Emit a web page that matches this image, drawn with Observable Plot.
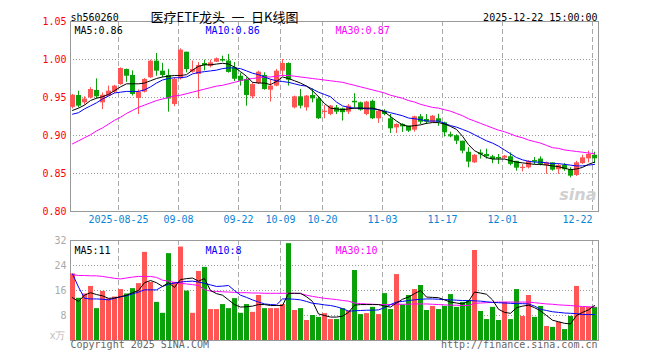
<!DOCTYPE html>
<html><head><meta charset="utf-8">
<script src="https://cdn.jsdelivr.net/npm/d3@7"></script>
<script src="https://cdn.jsdelivr.net/npm/@observablehq/plot@0.6"></script>
<style>
html,body{margin:0;padding:0;background:#fff;}
#chart{width:660px;height:360px;position:relative;overflow:hidden;}
#chart svg{display:block;}
</style></head>
<body><div id="chart"></div>
<script>
const code = "sh560260";
const title = "医疗ETF龙头\u2002一\u2002日K线图";
const stamp = "2025-12-22 15:00:00";
const dates = [
"2025-08-13","2025-08-14","2025-08-15","2025-08-18","2025-08-19","2025-08-20","2025-08-21","2025-08-22","2025-08-25","2025-08-26",
"2025-08-27","2025-08-28","2025-08-29","2025-09-01","2025-09-02","2025-09-03","2025-09-04","2025-09-05","2025-09-08","2025-09-09",
"2025-09-10","2025-09-11","2025-09-12","2025-09-15","2025-09-16","2025-09-17","2025-09-18","2025-09-19","2025-09-22","2025-09-23",
"2025-09-24","2025-09-25","2025-09-26","2025-09-29","2025-09-30","2025-10-09","2025-10-10","2025-10-13","2025-10-14","2025-10-15",
"2025-10-16","2025-10-17","2025-10-20","2025-10-21","2025-10-22","2025-10-23","2025-10-24","2025-10-27","2025-10-28","2025-10-29",
"2025-10-30","2025-10-31","2025-11-03","2025-11-04","2025-11-05","2025-11-06","2025-11-07","2025-11-10","2025-11-11","2025-11-12",
"2025-11-13","2025-11-14","2025-11-17","2025-11-18","2025-11-19","2025-11-20","2025-11-21","2025-11-24","2025-11-25","2025-11-26",
"2025-11-27","2025-11-28","2025-12-01","2025-12-02","2025-12-03","2025-12-04","2025-12-05","2025-12-08","2025-12-09","2025-12-10",
"2025-12-11","2025-12-12","2025-12-15","2025-12-16","2025-12-17","2025-12-18","2025-12-19","2025-12-22"];
const open = [0.937,0.9526,0.943,0.9495,0.9592,0.943,0.9518,0.957,0.967,0.9868,
0.979,0.9487,0.957,0.976,0.9978,0.9846,0.979,0.9408,0.9746,1.0096,
0.9833,0.9802,0.9947,0.991,0.9965,1.0,0.998,0.989,0.978,0.9737,
0.9509,0.9684,0.979,0.9596,0.965,0.9846,0.9947,0.9364,0.9509,0.9364,
0.9526,0.9482,0.9303,0.9276,0.9364,0.935,0.9307,0.945,0.943,0.9276,
0.945,0.922,0.932,0.922,0.910,0.9145,0.9123,0.907,0.9246,0.9211,
0.9175,0.922,0.9167,0.901,0.8996,0.8925,0.878,0.864,0.877,0.875,
0.872,0.8711,0.8702,0.872,0.866,0.857,0.8575,0.867,0.869,0.8605,
0.864,0.855,0.8605,0.855,0.8474,0.863,0.8693,0.874];
const high = [0.954,0.9583,0.951,0.963,0.9745,0.956,0.965,0.966,0.989,0.9875,
0.985,0.960,0.975,0.999,1.0079,0.995,0.987,0.976,1.014,1.0096,
0.998,0.996,0.9991,0.999,1.002,1.0044,1.0066,0.996,0.982,0.976,
0.9693,0.9846,0.9825,0.973,0.987,1.0,0.9956,0.9518,0.9605,0.9526,
0.9614,0.951,0.9395,0.9395,0.9395,0.936,0.941,0.955,0.944,0.945,
0.9465,0.934,0.934,0.9276,0.9154,0.9154,0.9123,0.9254,0.9276,0.9276,
0.9263,0.928,0.9175,0.9044,0.901,0.8925,0.884,0.875,0.881,0.882,
0.874,0.875,0.8737,0.877,0.866,0.862,0.867,0.871,0.872,0.865,
0.864,0.862,0.863,0.8575,0.866,0.874,0.8794,0.878];
const low = [0.935,0.9364,0.940,0.948,0.9482,0.9342,0.951,0.955,0.966,0.970,
0.952,0.9276,0.956,0.975,0.978,0.976,0.9307,0.938,0.973,0.9825,
0.982,0.9482,0.985,0.989,0.996,0.9965,0.982,0.971,0.965,0.9386,
0.948,0.967,0.9596,0.944,0.964,0.978,0.965,0.935,0.935,0.932,
0.943,0.921,0.922,0.926,0.9276,0.919,0.9276,0.936,0.932,0.926,
0.921,0.9158,0.926,0.9026,0.9026,0.904,0.904,0.9044,0.9145,0.9145,
0.9167,0.912,0.898,0.897,0.888,0.876,0.8575,0.8632,0.869,0.869,
0.863,0.862,0.869,0.860,0.853,0.852,0.856,0.8618,0.860,0.849,
0.8531,0.849,0.853,0.8443,0.846,0.862,0.864,0.863];
const close = [0.953,0.9386,0.948,0.9605,0.9509,0.953,0.9583,0.9649,0.9881,0.978,
0.954,0.957,0.9737,0.9978,0.9846,0.979,0.948,0.9737,1.0123,0.9868,
0.9868,0.992,0.992,0.9956,1.0009,0.998,0.983,0.974,0.9715,0.9526,
0.967,0.9833,0.9605,0.965,0.9846,0.9947,0.9728,0.9509,0.9386,0.9518,
0.9482,0.922,0.932,0.9386,0.9307,0.930,0.9386,0.943,0.9333,0.9439,
0.922,0.932,0.9276,0.9088,0.9145,0.9114,0.9057,0.9246,0.9175,0.9175,
0.9254,0.9175,0.9035,0.8996,0.8925,0.8794,0.865,0.874,0.8746,0.872,
0.8684,0.869,0.8728,0.862,0.857,0.858,0.866,0.865,0.862,0.864,
0.8544,0.8605,0.855,0.8465,0.864,0.8706,0.875,0.8693];
const volume = [21.3,13.5,14.9,17.3,10.2,15.7,13.3,13.9,16.3,14.9,
16.6,18.2,28.2,18.6,12.2,8.7,27.8,18.6,29.9,15.8,
8.7,22.1,23.4,9.9,9.9,11.5,10.2,13.4,8.7,11.5,
9.0,14.4,10.2,10.2,10.2,11.5,31.0,9.6,10.2,6.4,
8.0,7.4,8.6,6.7,6.7,10.2,9.4,22.4,8.3,8.6,
10.6,8.3,15.0,9.9,21.1,11.4,14.4,16.3,17.6,9.6,
10.9,9.9,10.9,14.7,10.6,12.2,12.8,28.8,9.3,6.7,
10.6,6.4,12.2,6.7,16.3,7.7,14.4,7.4,10.9,4.5,
4.2,5.8,3.5,7.7,17.3,10.6,10.6,10.6];
const ma5 = [0.933,0.936,0.940,0.946,0.949,0.951,0.954,0.959,0.964,0.968,
0.968,0.968,0.969,0.972,0.975,0.977,0.978,0.979,0.979,0.980,
0.986,0.991,0.993,0.993,0.994,0.995,0.994,0.990,0.984,0.978,
0.970,0.969,0.969,0.967,0.971,0.977,0.975,0.972,0.969,0.965,
0.959,0.951,0.942,0.936,0.935,0.934,0.935,0.936,0.936,0.936,
0.936,0.934,0.931,0.925,0.919,0.914,0.912,0.913,0.914,0.916,
0.917,0.917,0.915,0.912,0.908,0.899,0.888,0.880,0.876,0.871,
0.869,0.869,0.869,0.867,0.865,0.864,0.863,0.862,0.862,0.861,
0.860,0.859,0.857,0.855,0.856,0.858,0.862,0.865];
const ma10 = [0.928,0.930,0.935,0.939,0.943,0.948,0.952,0.956,0.957,0.958,
0.958,0.958,0.960,0.964,0.969,0.973,0.975,0.976,0.976,0.977,
0.981,0.983,0.984,0.985,0.986,0.988,0.989,0.989,0.988,0.985,
0.982,0.980,0.977,0.974,0.972,0.971,0.970,0.968,0.966,0.965,
0.961,0.957,0.954,0.951,0.944,0.939,0.937,0.936,0.936,0.935,
0.935,0.934,0.932,0.930,0.928,0.926,0.923,0.922,0.921,0.919,
0.919,0.919,0.916,0.913,0.911,0.908,0.905,0.901,0.897,0.893,
0.890,0.886,0.881,0.876,0.871,0.868,0.866,0.865,0.865,0.864,
0.863,0.863,0.862,0.861,0.860,0.860,0.861,0.862];
const ma30 = [0.889,0.893,0.897,0.901,0.906,0.910,0.915,0.920,0.924,0.929,
0.933,0.937,0.940,0.943,0.946,0.948,0.950,0.952,0.953,0.955,
0.957,0.959,0.961,0.963,0.965,0.966,0.968,0.970,0.972,0.974,
0.975,0.976,0.977,0.977,0.978,0.979,0.979,0.978,0.977,0.976,
0.975,0.974,0.973,0.972,0.971,0.970,0.968,0.966,0.964,0.962,
0.960,0.958,0.956,0.953,0.951,0.949,0.946,0.944,0.941,0.939,
0.937,0.936,0.934,0.932,0.929,0.926,0.922,0.919,0.916,0.913,
0.910,0.907,0.905,0.902,0.899,0.897,0.894,0.892,0.890,0.887,
0.884,0.883,0.881,0.880,0.879,0.878,0.877,0.876];
const vma5 = [13.7,12.5,14.5,15.3,14.7,14.3,13.5,13.6,14.0,14.5,
15.3,16.0,18.5,19.2,18.5,17.3,18.5,17.0,19.5,19.8,
20.0,19.0,19.8,16.0,15.0,14.5,13.0,11.5,10.7,10.8,
11.0,11.5,11.5,11.2,11.2,11.2,15.1,15.1,15.1,14.0,
12.5,8.5,8.0,7.5,7.5,7.8,9.0,11.3,11.5,11.5,
11.5,11.5,11.0,10.7,12.0,13.2,13.9,15.0,16.0,13.9,
13.8,13.7,13.0,12.3,12.0,11.7,12.5,15.5,15.2,14.8,
13.0,10.0,9.0,8.7,10.5,11.0,11.3,10.5,9.5,8.0,
6.5,6.0,5.5,5.3,8.0,9.0,9.8,11.2];
const vma10 = [21.3,17.1,13.5,13.3,13.3,13.2,13.0,13.5,14.0,14.3,
14.9,15.5,16.2,16.2,16.2,17.3,18.0,18.4,18.7,18.9,
19.0,18.7,18.3,17.8,17.3,17.4,17.6,16.0,14.5,13.8,
13.0,12.3,11.7,11.5,11.4,13.3,13.3,13.2,13.0,12.5,
11.9,11.7,11.4,11.2,10.8,10.2,9.4,9.5,9.6,9.7,
9.7,9.8,10.5,11.5,12.3,12.5,12.8,13.0,13.2,13.3,
13.3,13.2,13.1,13.0,12.9,12.8,12.8,12.7,12.6,12.4,
12.2,12.1,12.0,11.9,11.8,11.8,11.7,11.0,10.0,9.6,
9.2,9.0,8.8,8.7,8.6,8.3,8.3,8.3];
const vma30 = [21.1,20.8,20.8,20.7,20.7,20.5,20.2,19.9,19.7,20.0,
20.3,20.5,20.5,20.5,20.2,19.3,19.0,18.5,18.3,18.1,
17.9,17.6,16.3,15.8,15.7,15.6,15.5,15.4,15.3,15.3,
15.2,15.2,15.1,15.1,15.1,15.1,15.1,15.1,15.0,14.5,
14.1,13.8,13.5,13.3,13.1,12.8,12.6,12.0,11.8,11.7,
11.6,11.5,11.5,11.5,11.6,11.6,11.6,11.7,11.7,11.7,
11.6,11.5,11.4,11.3,11.3,11.2,11.2,11.9,12.0,12.1,
12.2,12.3,12.3,12.3,12.3,12.3,12.3,12.1,11.9,11.7,
11.6,11.4,11.3,11.2,11.0,10.9,10.8,10.7];
const tickDates = ["2025-08-25","2025-09-08","2025-09-22","2025-10-09","2025-10-20","2025-11-03","2025-11-17","2025-12-01","2025-12-22"];
const tickLabels = ["2025-08-25","09-08","09-22","10-09","10-20","11-03","11-17","12-01","12-22"];
const priceTicks = [0.80,0.85,0.90,0.95,1.00,1.05];
const priceGrid = [0.85,0.90,0.95,1.00];
const volTicks = [8,16,24,32];
const volGrid = [8,16,24];
const priceMaLabels = ["MA5:0.86","MA10:0.86","MA30:0.87"];
const volMaLabels = ["MA5:11","MA10:8","MA30:10"];
const volUnit = "x万";
const copyright = "Copyright 2025 SINA.COM";
const site = "http://finance.sina.com.cn";

const RED = "#ff5555", GREEN = "#0aa00a";
const MA_COLORS = ["#000000", "#0000ff", "#ff00ff"];
const MONO = "DejaVu Sans Mono, Liberation Mono, monospace";
const rows = dates.map((d, i) => ({
  i, date: d, open: open[i], high: high[i], low: low[i], close: close[i], vol: volume[i],
  ma5: ma5[i], ma10: ma10[i], ma30: ma30[i], vma5: vma5[i], vma10: vma10[i], vma30: vma30[i],
  color: close[i] >= open[i] ? RED : GREEN
}));
const ticks = tickDates.map((t, k) => ({i: dates.indexOf(t), label: tickLabels[k], last: k === tickDates.length - 1}));
const N = dates.length;
const cx = d => d.i + 1/3;
const xs = {domain: [0, N], axis: null};
const style = {fontFamily: MONO, fontSize: "10px", background: "white", overflow: "visible"};
const labelOffsets = [4, 135, 265];
const FS = 10;

const priceChart = Plot.plot({
  width: 660, height: 232,
  marginLeft: 70, marginRight: 62, marginTop: 21, marginBottom: 21,
  x: xs,
  y: {domain: [0.80, 1.05], axis: null},
  color: {type: "identity"},
  style,
  marks: [
    Plot.ruleY(priceGrid, {y: d => d, stroke: "#999", strokeDasharray: "1,2"}),
    Plot.ruleX(ticks, {x: "i", stroke: "#aaa", strokeDasharray: "5,3"}),
    Plot.text(["sina"], {frameAnchor: "bottom-right", dx: -2, dy: -12, text: d => d, fontSize: 16, fontWeight: "bold", fontStyle: "italic", fontFamily: "DejaVu Sans", fill: "#d0d0d0", textAnchor: "end"}),
    Plot.frame({stroke: "#999"}),
    Plot.ruleX(rows, {x: cx, y1: "low", y2: "high", stroke: "color"}),
    Plot.rectY(rows, {x1: d => d.i, x2: d => d.i + 1, insetRight: 1, y1: "open", y2: "close", fill: "color"}),
    Plot.ruleY(rows.filter(d => Math.abs(d.open - d.close) < 0.0015), {x1: d => d.i, x2: d => d.i + 5/6, y: "close", stroke: "color"}),
    Plot.line(rows, {x: cx, y: "ma30", stroke: MA_COLORS[2], strokeWidth: 1}),
    Plot.line(rows, {x: cx, y: "ma10", stroke: MA_COLORS[1], strokeWidth: 1}),
    Plot.line(rows, {x: cx, y: "ma5", stroke: MA_COLORS[0], strokeWidth: 1}),
    Plot.text(priceTicks, {y: d => d, text: d => d.toFixed(2), frameAnchor: "left", dx: -4, textAnchor: "end", fill: "#ff0000", fontSize: FS}),
    Plot.text(ticks.filter(t => !t.last), {x: "i", text: "label", frameAnchor: "bottom", dy: 11, fill: "#0a84d6", fontSize: FS}),
    Plot.text(ticks.filter(t => t.last), {x: "i", text: "label", frameAnchor: "bottom", dy: 11, textAnchor: "end", fill: "#0a84d6", fontSize: FS}),
    ...priceMaLabels.map((s, k) => Plot.text([s], {text: d => d, frameAnchor: "top-left", dx: labelOffsets[k], dy: 5, textAnchor: "start", fill: MA_COLORS[k], fontSize: FS})),
    Plot.text([code], {text: d => d, frameAnchor: "top-left", dy: -8, textAnchor: "start", fill: "#000", fontSize: FS}),
    Plot.text([stamp], {text: d => d, frameAnchor: "top-right", dx: -1, dy: -8, textAnchor: "end", fill: "#000", fontSize: FS}),
    Plot.text([title], {text: d => d, frameAnchor: "top-left", dx: 80, dy: -9, textAnchor: "start", fill: "#000", fontSize: 13, fontFamily: "Noto Sans CJK SC"})
  ]
});

const volumeChart = Plot.plot({
  width: 660, height: 128,
  marginLeft: 70, marginRight: 62, marginTop: 8, marginBottom: 20,
  x: xs,
  y: {domain: [0, 32], axis: null},
  color: {type: "identity"},
  style,
  marks: [
    Plot.ruleY(volGrid, {y: d => d, stroke: "#999", strokeDasharray: "1,2"}),
    Plot.ruleX(ticks, {x: "i", stroke: "#aaa", strokeDasharray: "5,3"}),
    Plot.frame({stroke: "#999"}),
    Plot.rectY(rows, {x1: d => d.i, x2: d => d.i + 1, insetRight: 1, y: "vol", fill: "color"}),
    Plot.line(rows, {x: cx, y: "vma30", stroke: MA_COLORS[2], strokeWidth: 1}),
    Plot.line(rows, {x: cx, y: "vma10", stroke: MA_COLORS[1], strokeWidth: 1}),
    Plot.line(rows, {x: cx, y: "vma5", stroke: MA_COLORS[0], strokeWidth: 1}),
    Plot.text(volTicks, {y: d => d, text: d => String(d), frameAnchor: "left", dx: -4, textAnchor: "end", fill: "#aaa", fontSize: FS}),
    Plot.text([volUnit], {text: d => d, frameAnchor: "bottom-left", dx: -5, dy: -2, textAnchor: "end", fill: "#bbb", fontSize: 10}),
    ...volMaLabels.map((s, k) => Plot.text([s], {text: d => d, frameAnchor: "top-left", dx: labelOffsets[k], dy: 6, textAnchor: "start", fill: MA_COLORS[k], fontSize: FS})),
    Plot.text([copyright], {text: d => d, frameAnchor: "bottom-left", dy: 7, textAnchor: "start", fill: "#666", fontSize: FS}),
    Plot.text([site], {text: d => d, frameAnchor: "bottom-right", dx: -1, dy: 7, textAnchor: "end", fill: "#666", fontSize: FS})
  ]
});

document.getElementById("chart").append(priceChart, volumeChart);
</script></body></html>
